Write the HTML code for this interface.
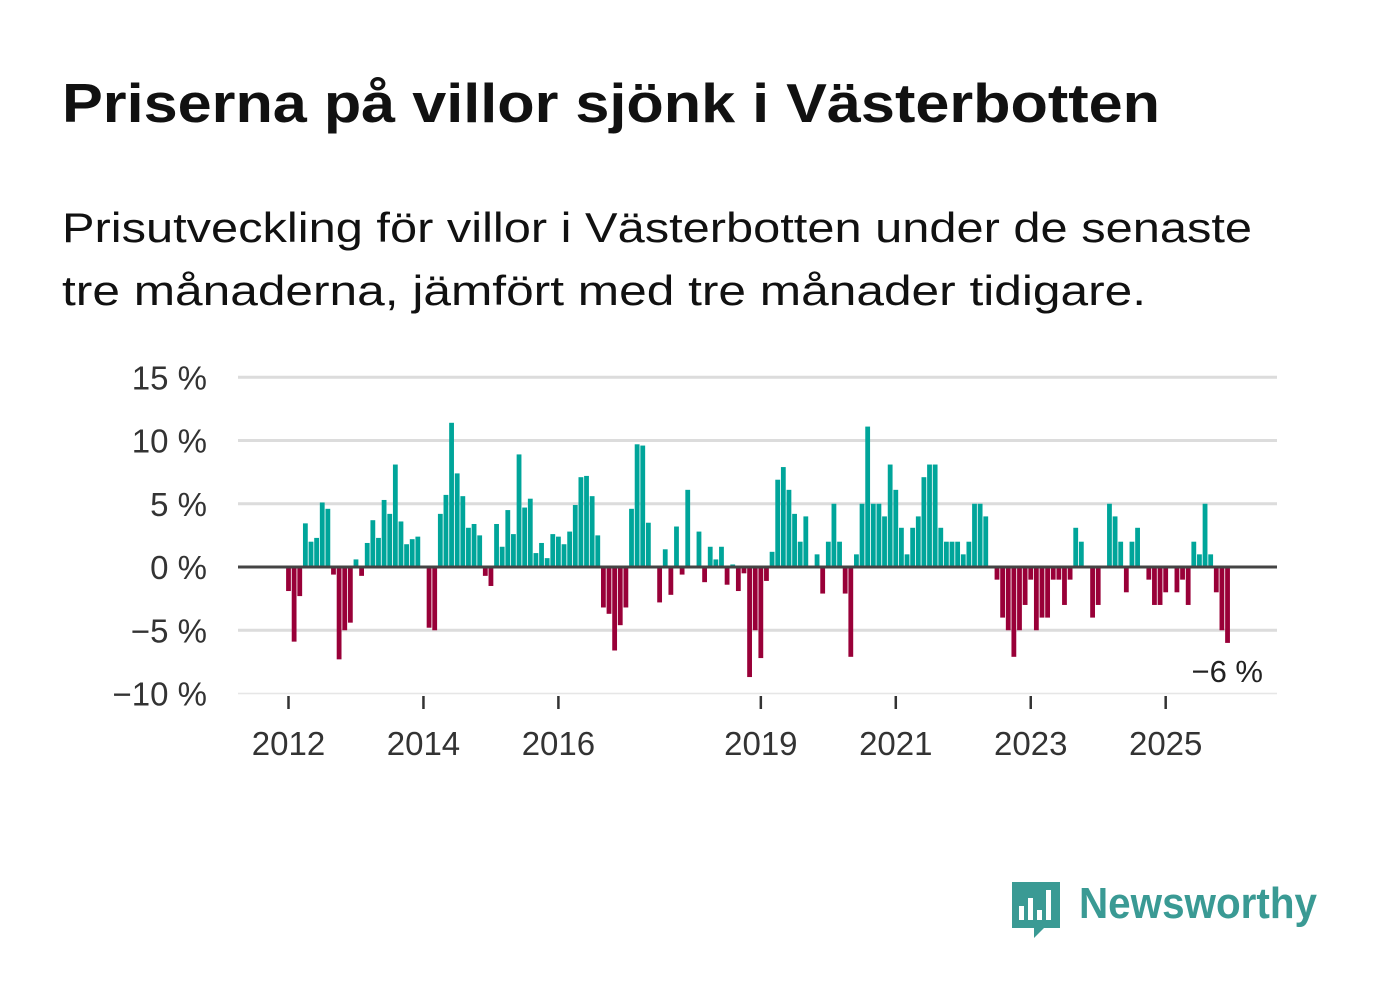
<!DOCTYPE html>
<html><head><meta charset="utf-8"><style>
html,body{margin:0;padding:0;background:#fff;}
svg{display:block;font-family:"Liberation Sans",sans-serif;}
</style></head><body>
<svg id="chart" width="1382" height="999" viewBox="0 0 1382 999" xmlns="http://www.w3.org/2000/svg">
<text x="62" y="122" font-size="55" font-weight="bold" fill="#111" textLength="1098" lengthAdjust="spacingAndGlyphs">Priserna på villor sjönk i Västerbotten</text>
<text x="62" y="242" font-size="42" fill="#111" textLength="1190" lengthAdjust="spacingAndGlyphs">Prisutveckling för villor i Västerbotten under de senaste</text>
<text x="62" y="305" font-size="42" fill="#111" textLength="1084" lengthAdjust="spacingAndGlyphs">tre månaderna, jämfört med tre månader tidigare.</text>
<g id="grid"></g><g id="bars"></g><g id="axes"></g>
<text x="1263" y="682" font-size="31" fill="#222" text-anchor="end">−6 %</text>
<g>
<path d="M1012 882 h48 v46 h-16 l-10 10 v-10 h-22 z" fill="#3a9a94"/>
<rect x="1019" y="906" width="5" height="14" fill="#fff"/><rect x="1028" y="898" width="5" height="22" fill="#fff"/><rect x="1037" y="910" width="5" height="10" fill="#fff"/><rect x="1046" y="890" width="5" height="30" fill="#fff"/>
<text x="1079" y="918" font-size="44" font-weight="bold" fill="#3a9a94" textLength="238" lengthAdjust="spacingAndGlyphs">Newsworthy</text>
</g>
</svg>
<script>
const values = [-1.9,-5.9,-2.3,3.45,2.0,2.3,5.1,4.6,-0.6,-7.3,-5.0,-4.4,
0.6,-0.7,1.9,3.7,2.3,5.3,4.2,8.1,3.6,1.8,2.2,2.4,
0,-4.8,-5.0,4.2,5.7,11.4,7.4,5.6,3.1,3.4,2.5,-0.7,
-1.5,3.4,1.6,4.5,2.6,8.9,4.7,5.4,1.1,1.9,0.7,2.6,
2.4,1.8,2.8,4.9,7.1,7.2,5.6,2.5,-3.2,-3.7,-6.6,-4.6,
-3.2,4.6,9.7,9.6,3.5,0,-2.8,1.4,-2.2,3.2,-0.6,6.1,
0,2.8,-1.2,1.6,0.6,1.6,-1.4,0.2,-1.9,-0.5,-8.7,-5.0,
-7.2,-1.1,1.2,6.9,7.9,6.1,4.2,2.0,4.0,0,1.0,-2.1,
2.0,5.0,2.0,-2.1,-7.1,1.0,5.0,11.1,5.0,5.0,4.0,8.1,
6.1,3.1,1.0,3.1,4.0,7.1,8.1,8.1,3.1,2.0,2.0,2.0,
1.0,2.0,5.0,5.0,4.0,0,-1.0,-4.0,-5.0,-7.1,-5.0,-3.0,
-1.0,-5.0,-4.0,-4.0,-1.0,-1.0,-3.0,-1.0,3.1,2.0,0,-4.0,
-3.0,0,5.0,4.0,2.0,-2.0,2.0,3.1,0,-1.0,-3.0,-3.0,
-2.0,0,-2.0,-1.0,-3.0,2.0,1.0,5.0,1.0,-2.0,-5.0,-6.0];
const yTicks = [15,10,5,0,-5,-10];
const yTickLabels = ["15 %","10 %","5 %","0 %","−5 %","−10 %"];
const xTickYears = [2012,2014,2016,2019,2021,2023,2025];
const startYear = 2012;

const NS="http://www.w3.org/2000/svg";
const y = v => 567 - v*12.65;
const x = i => 288.5 + i*5.623;
const mk=(tag,attrs,parent)=>{const e=document.createElementNS(NS,tag);for(const k in attrs)e.setAttribute(k,attrs[k]);parent.appendChild(e);return e;};
const grid=document.getElementById('grid'),bars=document.getElementById('bars'),axes=document.getElementById('axes');
yTicks.forEach((t,k)=>{
  if(t!==0){const l=mk('line',{x1:238,x2:1277,y1:y(t),y2:y(t),stroke:t===-10?'#e6e6e6':'#dcdcdc','stroke-width':t===-10?1.5:3},grid);
  
  }
  const tx=mk('text',{x:207,y:y(t)+12,'font-size':33,fill:'#333','text-anchor':'end'},axes);
  tx.textContent=yTickLabels[k];
  
  
});
values.forEach((v,i)=>{
  if(v===0)return;
  const r=mk('rect',{x:x(i)-2.4,width:4.8,y:Math.min(y(v),y(0)),height:Math.abs(y(v)-y(0)),fill:v>0?'#00a59a':'#990038'},bars);
  
  
});
const zl=mk('line',{x1:238,x2:1277,y1:y(0),y2:y(0),stroke:'#444','stroke-width':3},axes);


xTickYears.forEach(yr=>{
  const cx=x((yr-startYear)*12);
  const t=mk('line',{x1:cx,x2:cx,y1:696,y2:709,stroke:'#333','stroke-width':2.5},axes);
  
  
  const tx=mk('text',{x:cx,y:755,'font-size':33,fill:'#333','text-anchor':'middle'},axes);
  tx.textContent=yr;
  
  
});
</script>
</body></html>
